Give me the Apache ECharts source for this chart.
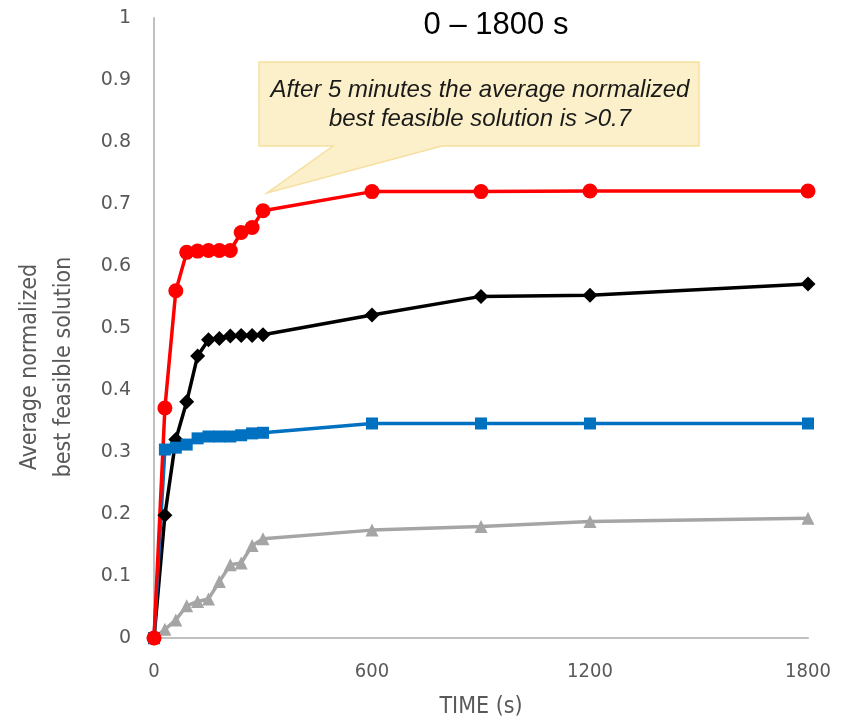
<!DOCTYPE html>
<html>
<head>
<meta charset="utf-8">
<style>
  html, body { margin: 0; padding: 0; background: #fff; width: 847px; height: 724px; overflow: hidden; }
  #chart { position: absolute; left: 0; top: 0; width: 847px; height: 724px; }
</style>
<script src="https://cdn.jsdelivr.net/npm/echarts@6/dist/echarts.min.js"></script>
</head>
<body>
<div id="chart"></div>
<script>
// Sampling times (seconds)
const times = [0, 30, 60, 90, 120, 150, 180, 210, 240, 270, 300, 600, 900, 1200, 1800];

// Average normalized best feasible solution per method
const redValues   = [0, 0.371, 0.560, 0.622, 0.624, 0.625, 0.625, 0.625, 0.654, 0.662, 0.689, 0.720, 0.720, 0.721, 0.721];
const blackValues = [0, 0.198, 0.320, 0.381, 0.455, 0.481, 0.483, 0.487, 0.488, 0.488, 0.489, 0.521, 0.551, 0.553, 0.571];
const blueValues  = [0, 0.304, 0.307, 0.312, 0.322, 0.325, 0.325, 0.325, 0.327, 0.330, 0.331, 0.346, 0.346, 0.346, 0.346];
const grayValues  = [0, 0.014, 0.029, 0.052, 0.059, 0.063, 0.091, 0.118, 0.121, 0.149, 0.160, 0.174, 0.180, 0.188, 0.193];

const titleText = '0 \u2013 1800 s';
const xAxisTitle = 'TIME (s)';
const yAxisTitle = 'Average normalized\nbest feasible solution';
const calloutText = 'After 5 minutes the average normalized\nbest feasible solution is >0.7';

const narrowFont = '"Liberation Sans Narrow", "DejaVu Sans Condensed", sans-serif';

const pairs = vals => times.map((t, i) => [t, vals[i]]);

const chart = echarts.init(document.getElementById('chart'), null, { renderer: 'canvas', width: 847, height: 724 });

function lineSeries(name, vals, color, symbol, size) {
  return {
    name: name,
    type: 'line',
    data: pairs(vals),
    symbol: symbol,
    symbolSize: size,
    showAllSymbol: true,
    lineStyle: { color: color, width: 3.5 },
    itemStyle: { color: color, borderWidth: 0 },
    emphasis: { disabled: true },
    animation: false
  };
}

const option = {
  backgroundColor: '#ffffff',
  animation: false,
  title: {
    text: titleText,
    left: 491,
    top: 5,
    textAlign: 'center',
    textStyle: { fontFamily: 'Liberation Sans', fontSize: 31, fontWeight: 'normal', color: '#000' }
  },
  grid: { left: 154, right: 39, top: 18, bottom: 84, containLabel: false },
  xAxis: {
    type: 'value',
    min: 0, max: 1800, interval: 600,
    name: xAxisTitle,
    nameLocation: 'middle',
    nameGap: 58,
    nameTextStyle: { fontFamily: narrowFont, fontSize: 23, color: '#595959' },
    axisLine: { show: true, lineStyle: { color: '#c0c0c0', width: 2 } },
    axisTick: { show: false },
    splitLine: { show: false },
    axisLabel: {
      margin: 24, fontFamily: narrowFont, fontSize: 20, color: '#595959',
      formatter: v => String(v)
    }
  },
  yAxis: {
    type: 'value',
    min: 0, max: 1, interval: 0.1,
    axisLine: { show: true, lineStyle: { color: '#c0c0c0', width: 2 } },
    axisTick: { show: false },
    splitLine: { show: false },
    axisLabel: {
      margin: 23,
      fontFamily: 'DejaVu Sans', fontSize: 19, color: '#595959',
      formatter: v => String(Math.round(v * 10) / 10)
    }
  },
  graphic: [
    {
      type: 'text',
      rotation: Math.PI / 2,
      x: 47, y: 367,
      style: {
        text: yAxisTitle,
        font: '23px ' + narrowFont,
        lineHeight: 34,
        fill: '#595959',
        align: 'center', verticalAlign: 'middle'
      }
    },
    {
      type: 'polygon',
      z: 100,
      shape: {
        points: [[259, 62], [699, 62], [699, 146], [442, 146], [267, 193], [333, 146], [259, 146]]
      },
      style: { fill: 'rgba(250, 230, 170, 0.62)', stroke: '#f6dfa0', lineWidth: 1.5 }
    },
    {
      type: 'text',
      z: 101,
      x: 480, y: 105,
      style: {
        text: calloutText,
        font: 'italic 24px "Liberation Sans"',
        lineHeight: 29,
        fill: '#1a1a1a',
        align: 'center', verticalAlign: 'middle'
      }
    }
  ],
  series: [
    lineSeries('Gray', grayValues, '#a5a5a5', 'triangle', 13),
    lineSeries('Black', blackValues, '#000000', 'diamond', 15),
    lineSeries('Blue', blueValues, '#0070c0', 'rect', 12),
    lineSeries('Red', redValues, '#ff0000', 'circle', 15)
  ]
};

chart.setOption(option);
</script>
</body>
</html>
